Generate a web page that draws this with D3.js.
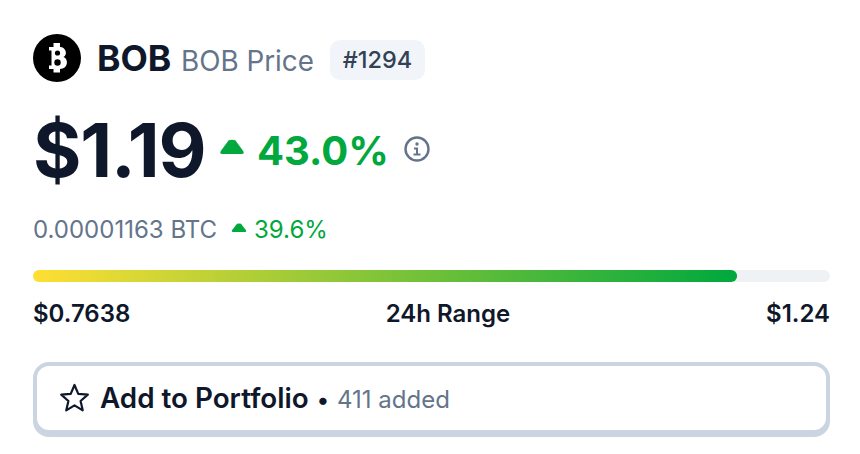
<!DOCTYPE html>
<html>
<head>
<meta charset="utf-8">
<script src="https://cdn.jsdelivr.net/npm/d3@7"></script>
<style>
  html, body { margin: 0; padding: 0; background: #fff; }
  svg { display: block; }
  text { font-family: Inter, "Noto Sans", sans-serif; }
</style>
</head>
<body>
<svg id="chart"></svg>
<script>
const WIDTH = 860;
const HEIGHT = 454;

// values
const coinNames = ["BOB", "BOB Price"];
const coinRank = ["#1294"];
const priceLabels = ["$1.19", "43.0%"];
const btcLabels = ["0.00001163 BTC", "39.6%"];
const rangeDomain = [0.7638, 1.24];
const rangeCurrent = [1.1845];
const rangeLabels = ["$0.7638", "24h Range", "$1.24"];
const portfolioLabels = ["Add to Portfolio", "•", "411 added"];

const DARK = "#0f172a";
const GREY = "#64748b";
const GREEN = "#00a83e";

const svg = d3.select("#chart")
    .attr("width", WIDTH)
    .attr("height", HEIGHT)
    .attr("viewBox", `0 0 ${WIDTH} ${HEIGHT}`);

svg.append("rect")
    .attr("width", WIDTH)
    .attr("height", HEIGHT)
    .attr("fill", "white");

function label(x, y, str, size, weight, fill, anchor) {
    return svg.append("text")
        .attr("x", x)
        .attr("y", y)
        .attr("font-size", size)
        .attr("font-weight", weight)
        .attr("fill", fill)
        .attr("text-anchor", anchor || "start")
        .text(str);
}

// rounded up-arrow, same shape for both change labels
function upArrow(cx, baseY, w, h) {
    const r = h * 0.22;
    svg.append("path")
        .attr("d", `M${cx - w / 2 + r},${baseY} L${cx + w / 2 - r},${baseY}
            Q${cx + w / 2},${baseY} ${cx + w / 2 - r * 0.6},${baseY - r}
            L${cx + r},${baseY - h + r * 0.4} Q${cx},${baseY - h} ${cx - r},${baseY - h + r * 0.4}
            L${cx - w / 2 + r * 0.6},${baseY - r} Q${cx - w / 2},${baseY} ${cx - w / 2 + r},${baseY} Z`)
        .attr("fill", GREEN);
}

// header row
const logo = svg.append("g").attr("transform", "translate(57,58)");
logo.append("circle").attr("r", 24).attr("fill", "black");
logo.append("path")
    .attr("d", `M-8,-11 L-3.5,-11 L-3.5,-15 L3,-15 L3,-11 C9,-11 11,-3 6.5,-1 C12,1 11,11 3,11
        L3,14.5 L-3.5,14.5 L-3.5,11 L-8,11 L-8,7.5 L-5.5,7.5 L-5.5,-7.5 L-8,-7.5 Z`)
    .attr("fill", "white");
logo.append("circle").attr("cx", 0.5).attr("cy", -5).attr("r", 2.6).attr("fill", "black");
logo.append("circle").attr("cx", 0.5).attr("cy", 4.5).attr("r", 3.2).attr("fill", "black");

label(97, 71, coinNames[0], 35.5, 700, DARK);
label(181, 71, coinNames[1], 27.8, 400, GREY);

svg.append("rect")
    .attr("x", 330).attr("y", 40)
    .attr("width", 95).attr("height", 40)
    .attr("rx", 10)
    .attr("fill", "#f1f5f9");
label(377.5, 68, coinRank[0], 23.5, 500, "#334155", "middle");

// price row
label(33, 177, priceLabels[0], 74, 700, DARK).attr("letter-spacing", -1.2);
upArrow(232, 154, 26, 15);
label(257, 165, priceLabels[1], 40, 700, GREEN);

const info = svg.append("g").attr("transform", "translate(417,149)");
info.append("circle").attr("r", 11.5).attr("fill", "none").attr("stroke", GREY).attr("stroke-width", 2.4);
info.append("circle").attr("cy", -5).attr("r", 1.7).attr("fill", GREY);
info.append("path")
    .attr("d", "M-3,-1.5 L1,-1.5 L1,4.5 L3.5,4.5 L3.5,6.5 L-3.5,6.5 L-3.5,4.5 L-1,4.5 L-1,0.5 L-3,0.5 Z")
    .attr("fill", GREY);

// btc row
label(33, 238, btcLabels[0], 24, 400, GREY);
upArrow(239, 232, 16, 9);
label(254, 238, btcLabels[1], 24, 400, GREEN);

// range bar
const x = d3.scaleLinear().domain(rangeDomain).range([33, 830]);
const barY = 270;
const barH = 12;

const gradient = svg.append("defs").append("linearGradient")
    .attr("id", "rangeFill");
gradient.append("stop").attr("offset", "0%").attr("stop-color", "#ffdf33");
gradient.append("stop").attr("offset", "100%").attr("stop-color", GREEN);

svg.append("rect")
    .attr("x", x(rangeDomain[0])).attr("y", barY)
    .attr("width", x(rangeDomain[1]) - x(rangeDomain[0])).attr("height", barH)
    .attr("rx", barH / 2)
    .attr("fill", "#eff2f5");

svg.selectAll("rect.range-fill")
    .data(rangeCurrent)
    .join("rect")
    .attr("class", "range-fill")
    .attr("x", x(rangeDomain[0])).attr("y", barY)
    .attr("width", d => x(d) - x(rangeDomain[0])).attr("height", barH)
    .attr("rx", barH / 2)
    .attr("fill", "url(#rangeFill)");

label(33, 322, rangeLabels[0], 24, 600, DARK);
label(448, 322, rangeLabels[1], 24, 600, DARK, "middle");
label(830, 322, rangeLabels[2], 24, 600, DARK, "end");

// portfolio button
svg.append("rect")
    .attr("x", 33).attr("y", 362)
    .attr("width", 797).attr("height", 75)
    .attr("rx", 16)
    .attr("fill", "#cbd5e1");
svg.append("rect")
    .attr("x", 37).attr("y", 366)
    .attr("width", 789).attr("height", 64)
    .attr("rx", 12)
    .attr("fill", "white");

const star = d3.range(10).map(i => {
    const a = -Math.PI / 2 + i * Math.PI / 5;
    const r = i % 2 ? 6.4 : 14;
    return [r * Math.cos(a), r * Math.sin(a)];
});
svg.append("path")
    .attr("transform", "translate(74.5,399)")
    .attr("d", d3.line()(star) + "Z")
    .attr("fill", "none")
    .attr("stroke", DARK)
    .attr("stroke-width", 2.2)
    .attr("stroke-linejoin", "round");

label(100, 408, portfolioLabels[0], 27.8, 600, DARK);
label(317, 408, portfolioLabels[1], 23.5, 600, DARK);
label(337, 408, portfolioLabels[2], 24, 400, GREY);
</script>
</body>
</html>
